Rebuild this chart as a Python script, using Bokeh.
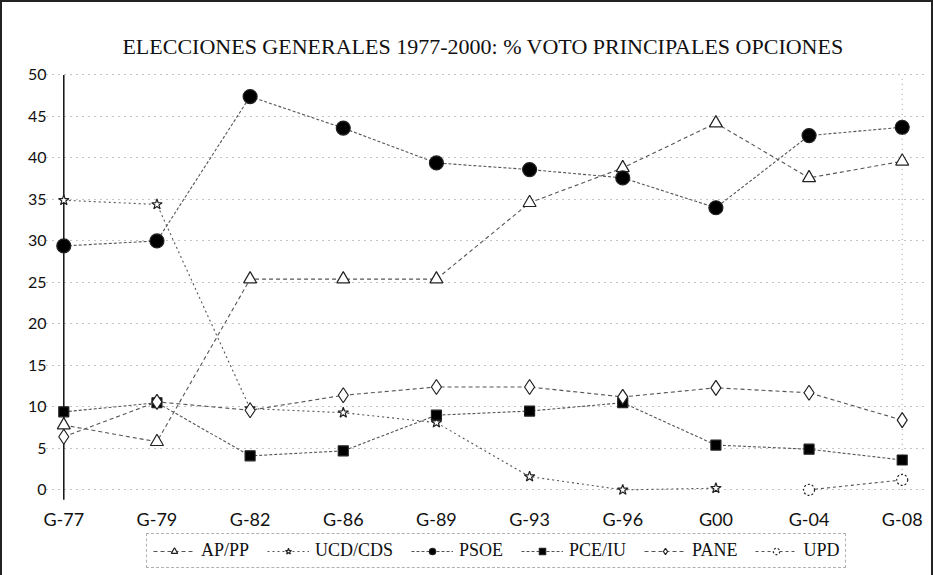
from bokeh.plotting import figure
from bokeh.models import ColumnDataSource, FixedTicker, Legend, LegendItem, Range1d
from bokeh.core.properties import value
from bokeh.embed import file_html
from bokeh.resources import INLINE

nan = float("nan")

# ---- data ----
elections = ["G-77", "G-79", "G-82", "G-86", "G-89", "G-93", "G-96", "G00", "G-04", "G-08"]
ap_pp   = [7.8, 5.8, 25.4, 25.4, 25.4, 34.6, 38.8, 44.2, 37.6, 39.6]
ucd_cds = [34.9, 34.4, 9.8, 9.3, 8.1, 1.6, 0.0, 0.2, nan, nan]
psoe    = [29.4, 30.0, 47.4, 43.6, 39.4, 38.6, 37.6, 34.0, 42.7, 43.7]
pce_iu  = [9.4, 10.5, 4.1, 4.7, 9.0, 9.5, 10.5, 5.4, 4.9, 3.6]
pane    = [6.4, 10.6, 9.6, 11.4, 12.4, 12.4, 11.2, 12.3, 11.7, 8.4]
upd     = [nan, nan, nan, nan, nan, nan, nan, nan, 0.0, 1.2]
y_ticks = [0, 5, 10, 15, 20, 25, 30, 35, 40, 45, 50]
title_text = "ELECCIONES GENERALES 1977-2000: % VOTO PRINCIPALES OPCIONES"

xs = list(range(len(elections)))
y_low, y_high = -10.2, 50.3     # extra room below 0 holds the category labels + legend
label_y = -3.5                  # category labels sit just under the 0 line

p = figure(width=933, height=575, output_backend="svg", toolbar_location=None,
           x_range=Range1d(-0.25, 9.25), y_range=Range1d(y_low, y_high),
           min_border_left=38, min_border_right=10, min_border_top=70,
           min_border_bottom=3, title=title_text)
p.styles = {"border-top": "2px solid #222", "border-left": "2px solid #222",
            "border-right": "2px solid #222", "box-sizing": "border-box"}

p.title.align = "center"
p.title.text_font = "Liberation Serif"
p.title.text_font_size = "22px"
p.title.text_font_style = "normal"
p.title.text_color = "#111111"
p.title.standoff = 27
p.title.offset = -30

p.outline_line_color = None
p.background_fill_color = "white"

p.xaxis.visible = False

p.yaxis.ticker = FixedTicker(ticks=y_ticks)
p.yaxis.axis_line_color = None
p.yaxis.major_tick_line_color = None
p.yaxis.minor_tick_line_color = None
p.yaxis.major_label_text_font = "Lato"
p.yaxis.major_label_text_font_size = "16px"
p.yaxis.major_label_text_color = "#111111"
p.yaxis.major_label_standoff = -12

p.xgrid.grid_line_color = None
p.ygrid.grid_line_color = "#888888"
p.ygrid.grid_line_dash = "1 5"
p.ygrid.grid_line_width = 1

# vertical axis line through G-77 and dotted edge at G-08
p.segment(x0=[xs[0]], y0=[y_ticks[0] - 1.2], x1=[xs[0]], y1=[y_ticks[-1]],
          line_color="#111111", line_width=1.5)
p.segment(x0=[xs[-1]], y0=[y_ticks[0]], x1=[xs[-1]], y1=[y_ticks[-1]],
          line_color="#999999", line_width=1, line_dash="1 4")

# category labels
p.text(x=xs, y=[label_y] * len(xs), text=elections, text_align="center",
       text_baseline="middle", text_font=value("Lato"), text_font_size="18px",
       text_color="#111111")

line_col = "#555555"
series = [
    ("AP/PP", ap_pp, "triangle", 13, "white", "4 3", None),
    ("UCD/CDS", ucd_cds, "star", 11, "white", "2 3", None),
    ("PSOE", psoe, "circle", 14, "black", "3 2", None),
    ("PCE/IU", pce_iu, "square", 10, "black", "3 2", None),
    ("PANE", pane, "diamond", 15, "white", "4 3", None),
    ("UPD", upd, "circle", 11, "white", "3 3", "2 2"),
]

items = []
for name, vals, marker, size, fill, dash, mdash in series:
    src = ColumnDataSource(dict(x=xs, y=vals))
    lr = p.line("x", "y", source=src, line_color=line_col, line_width=1.1,
                line_dash=dash)
    kw = dict(marker=marker, size=size, fill_color=fill,
              line_color="#222222", line_width=1.2)
    if mdash:
        kw["line_dash"] = mdash
    sr = p.scatter("x", "y", source=src, **kw)
    items.append(LegendItem(label=name, renderers=[lr, sr]))

legend = Legend(items=items, orientation="horizontal", location=(106, 6),
                label_text_font="Liberation Serif", label_text_font_size="18px",
                label_text_color="#111111", glyph_width=42, glyph_height=16,
                label_standoff=6, spacing=18, padding=6, margin=0,
                border_line_color="#666666", border_line_dash="1 3",
                border_line_width=1, background_fill_alpha=0)
p.add_layout(legend)

open("out.html", "w").write(file_html(p, INLINE))
